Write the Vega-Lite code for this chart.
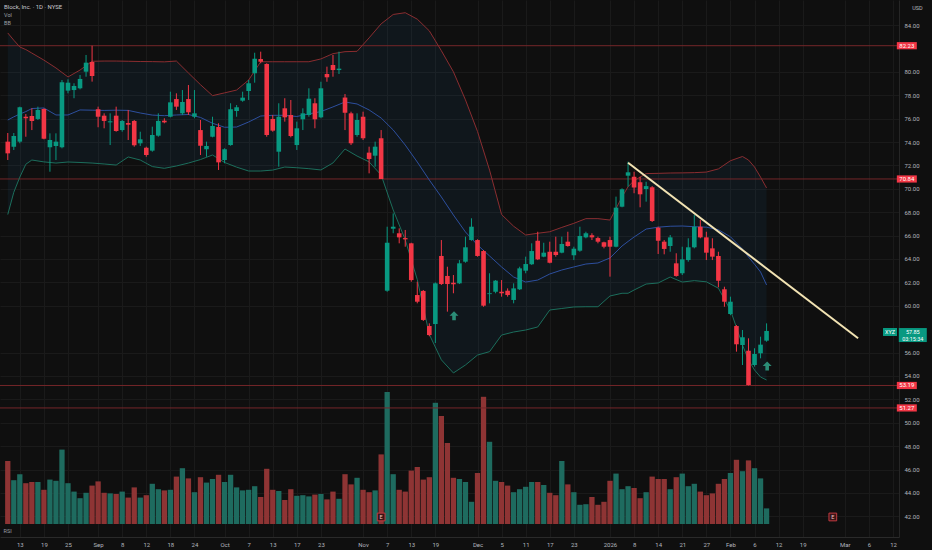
{
  "$schema": "https://vega.github.io/schema/vega-lite/v6.json",
  "width": 899,
  "height": 537,
  "autosize": {"type": "none"},
  "padding": {"left": 0, "top": 0, "right": 33, "bottom": 13},
  "background": "#0f0f0f",
  "title": {
    "text": "Block, Inc. · 1D · NYSE",
    "subtitle": ["Vol", "BB"],
    "anchor": "start",
    "frame": "group",
    "fontSize": 6,
    "fontWeight": "normal",
    "color": "#c7c9cf",
    "subtitleFontSize": 5.5,
    "subtitleColor": "#9ea1a8",
    "subtitlePadding": 3,
    "subtitleLineHeight": 8,
    "dx": 4,
    "dy": 26,
    "offset": 0
  },
  "config": {
    "font": "Roboto",
    "view": {"stroke": null},
    "axis": {"labelFont": "Roboto", "titleFont": "Roboto"},
    "axisX": {"labelOverlap": false, "labelFlush": false, "labelBound": false},
    "axisY": {"labelOverlap": false, "labelFlush": false, "labelBound": false}
  },
  "datasets": {
    "candles": [
      {"t": -2, "o": 74.03, "h": 74.77, "l": 72.46, "c": 73.03, "v": 10.5},
      {"t": -1, "o": 73.6, "h": 74.77, "l": 73.32, "c": 74.51, "v": 7.3},
      {"t": 0, "o": 74.03, "h": 77.02, "l": 73.89, "c": 76.97, "v": 8.3},
      {"t": 1, "o": 76.16, "h": 76.39, "l": 74.45, "c": 76.03, "v": 6.8},
      {"t": 2, "o": 76.22, "h": 76.88, "l": 75.02, "c": 75.8, "v": 7.0},
      {"t": 3, "o": 75.97, "h": 77.02, "l": 75.88, "c": 76.74, "v": 7.0},
      {"t": 4, "o": 76.82, "h": 76.88, "l": 74.23, "c": 74.28, "v": 5.7},
      {"t": 5, "o": 73.55, "h": 74.74, "l": 71.46, "c": 74.17, "v": 7.4},
      {"t": 6, "o": 73.66, "h": 74.74, "l": 72.46, "c": 74.03, "v": 7.2},
      {"t": 7, "o": 73.55, "h": 79.3, "l": 73.46, "c": 79.1, "v": 12.4},
      {"t": 8, "o": 78.39, "h": 79.36, "l": 78.16, "c": 79.07, "v": 6.8},
      {"t": 9, "o": 78.44, "h": 79.02, "l": 77.74, "c": 78.79, "v": 5.4},
      {"t": 10, "o": 78.59, "h": 79.73, "l": 78.5, "c": 79.39, "v": 4.3},
      {"t": 11, "o": 80.01, "h": 81.44, "l": 79.58, "c": 80.78, "v": 5.2},
      {"t": 12, "o": 80.84, "h": 82.23, "l": 79.16, "c": 79.64, "v": 6.4},
      {"t": 13, "o": 76.8, "h": 77.02, "l": 75.26, "c": 76.16, "v": 7.1},
      {"t": 14, "o": 76.25, "h": 76.45, "l": 75.17, "c": 75.8, "v": 5.2},
      {"t": 15, "o": 75.68, "h": 76.45, "l": 73.74, "c": 75.77, "v": 5.1},
      {"t": 16, "o": 76.25, "h": 77.02, "l": 74.88, "c": 74.94, "v": 5.0},
      {"t": 17, "o": 75.02, "h": 75.88, "l": 74.88, "c": 75.8, "v": 5.4},
      {"t": 18, "o": 75.62, "h": 76.74, "l": 74.17, "c": 75.48, "v": 4.4},
      {"t": 19, "o": 75.8, "h": 75.88, "l": 73.6, "c": 73.72, "v": 6.1},
      {"t": 20, "o": 73.89, "h": 74.88, "l": 73.66, "c": 74.23, "v": 4.4},
      {"t": 21, "o": 73.51, "h": 73.6, "l": 72.74, "c": 72.89, "v": 4.8},
      {"t": 22, "o": 73.26, "h": 75.31, "l": 73.17, "c": 74.6, "v": 6.7},
      {"t": 23, "o": 74.54, "h": 76.45, "l": 74.45, "c": 75.8, "v": 5.8},
      {"t": 24, "o": 75.82, "h": 76.03, "l": 75.6, "c": 75.68, "v": 5.6},
      {"t": 25, "o": 76.16, "h": 78.3, "l": 76.11, "c": 77.39, "v": 5.7},
      {"t": 26, "o": 77.67, "h": 78.16, "l": 76.74, "c": 77.02, "v": 7.9},
      {"t": 27, "o": 76.45, "h": 78.44, "l": 76.31, "c": 77.42, "v": 9.3},
      {"t": 28, "o": 77.67, "h": 78.87, "l": 76.31, "c": 76.54, "v": 7.6},
      {"t": 29, "o": 76.16, "h": 78.44, "l": 76.03, "c": 76.45, "v": 5.3},
      {"t": 30, "o": 75.02, "h": 75.88, "l": 72.89, "c": 73.68, "v": 7.8},
      {"t": 31, "o": 73.38, "h": 74.03, "l": 72.74, "c": 73.66, "v": 6.9},
      {"t": 32, "o": 74.45, "h": 76.16, "l": 74.4, "c": 75.37, "v": 7.5},
      {"t": 33, "o": 75.28, "h": 75.6, "l": 71.61, "c": 72.26, "v": 8.2},
      {"t": 34, "o": 72.46, "h": 73.46, "l": 72.18, "c": 73.38, "v": 7.0},
      {"t": 35, "o": 73.74, "h": 77.31, "l": 73.68, "c": 76.8, "v": 8.2},
      {"t": 36, "o": 76.65, "h": 77.16, "l": 76.16, "c": 76.97, "v": 6.1},
      {"t": 37, "o": 77.53, "h": 78.3, "l": 77.44, "c": 77.79, "v": 5.6},
      {"t": 38, "o": 78.36, "h": 79.3, "l": 77.59, "c": 79.02, "v": 5.7},
      {"t": 39, "o": 79.87, "h": 81.63, "l": 79.07, "c": 81.12, "v": 6.3},
      {"t": 40, "o": 81.09, "h": 81.72, "l": 80.73, "c": 80.86, "v": 4.5},
      {"t": 41, "o": 80.67, "h": 80.73, "l": 74.45, "c": 74.6, "v": 9.2},
      {"t": 42, "o": 75.97, "h": 76.31, "l": 74.88, "c": 74.97, "v": 5.7},
      {"t": 43, "o": 73.17, "h": 77.31, "l": 71.89, "c": 76.16, "v": 5.5},
      {"t": 44, "o": 76.88, "h": 77.74, "l": 75.74, "c": 76.11, "v": 4.0},
      {"t": 45, "o": 76.31, "h": 77.59, "l": 74.4, "c": 74.51, "v": 5.8},
      {"t": 46, "o": 73.74, "h": 75.74, "l": 73.32, "c": 75.17, "v": 4.7},
      {"t": 47, "o": 75.94, "h": 76.88, "l": 75.02, "c": 76.45, "v": 4.8},
      {"t": 48, "o": 76.31, "h": 78.59, "l": 76.16, "c": 77.7, "v": 4.6},
      {"t": 49, "o": 77.31, "h": 77.74, "l": 75.17, "c": 75.94, "v": 4.9},
      {"t": 50, "o": 76.11, "h": 79.15, "l": 76.03, "c": 78.59, "v": 5.0},
      {"t": 51, "o": 79.81, "h": 80.44, "l": 79.15, "c": 79.53, "v": 4.1},
      {"t": 52, "o": 80.58, "h": 81.44, "l": 79.58, "c": 80.15, "v": 5.4},
      {"t": 53, "o": 80.15, "h": 81.72, "l": 79.81, "c": 80.27, "v": 4.2},
      {"t": 54, "o": 77.8, "h": 78.1, "l": 75.02, "c": 76.5, "v": 8.3},
      {"t": 55, "o": 76.45, "h": 76.59, "l": 73.74, "c": 73.89, "v": 6.6},
      {"t": 56, "o": 74.6, "h": 76.45, "l": 74.45, "c": 75.88, "v": 7.7},
      {"t": 57, "o": 76.16, "h": 76.59, "l": 74.17, "c": 74.32, "v": 5.7},
      {"t": 58, "o": 73.09, "h": 73.6, "l": 71.32, "c": 72.55, "v": 5.3},
      {"t": 59, "o": 72.83, "h": 74.03, "l": 71.89, "c": 73.6, "v": 5.6},
      {"t": 60, "o": 74.32, "h": 75.02, "l": 70.84, "c": 70.84, "v": 11.6},
      {"t": 61, "o": 61.29, "h": 66.76, "l": 61.2, "c": 65.39, "v": 22.0},
      {"t": 62, "o": 66.59, "h": 67.9, "l": 66.2, "c": 66.76, "v": 8.3},
      {"t": 63, "o": 66.2, "h": 66.62, "l": 65.34, "c": 65.85, "v": 5.7},
      {"t": 64, "o": 65.79, "h": 66.48, "l": 65.05, "c": 65.68, "v": 5.4},
      {"t": 65, "o": 65.34, "h": 65.39, "l": 62.06, "c": 62.2, "v": 8.9},
      {"t": 66, "o": 60.92, "h": 62.06, "l": 60.21, "c": 60.35, "v": 9.5},
      {"t": 67, "o": 61.27, "h": 61.35, "l": 58.7, "c": 58.79, "v": 7.4},
      {"t": 68, "o": 58.27, "h": 58.5, "l": 57.4, "c": 57.5, "v": 7.8},
      {"t": 69, "o": 58.44, "h": 62.0, "l": 56.82, "c": 61.92, "v": 20.2},
      {"t": 70, "o": 64.26, "h": 65.62, "l": 61.78, "c": 61.86, "v": 18.0},
      {"t": 71, "o": 62.55, "h": 63.34, "l": 59.5, "c": 61.86, "v": 13.5},
      {"t": 72, "o": 61.97, "h": 62.63, "l": 61.07, "c": 61.84, "v": 7.7},
      {"t": 73, "o": 61.92, "h": 63.91, "l": 61.86, "c": 63.63, "v": 7.5},
      {"t": 74, "o": 63.77, "h": 65.91, "l": 63.68, "c": 65.0, "v": 7.0},
      {"t": 75, "o": 65.62, "h": 67.48, "l": 65.56, "c": 66.76, "v": 3.7},
      {"t": 76, "o": 65.62, "h": 65.68, "l": 64.2, "c": 64.26, "v": 8.5},
      {"t": 77, "o": 64.68, "h": 64.77, "l": 59.92, "c": 60.01, "v": 21.2},
      {"t": 78, "o": 61.0, "h": 62.78, "l": 60.21, "c": 61.07, "v": 13.7},
      {"t": 79, "o": 61.2, "h": 62.2, "l": 61.07, "c": 62.15, "v": 7.2},
      {"t": 80, "o": 61.2, "h": 62.2, "l": 60.78, "c": 61.07, "v": 7.0},
      {"t": 81, "o": 61.29, "h": 61.49, "l": 60.78, "c": 60.92, "v": 6.4},
      {"t": 82, "o": 60.5, "h": 61.92, "l": 60.21, "c": 61.49, "v": 5.3},
      {"t": 83, "o": 61.41, "h": 63.34, "l": 61.35, "c": 63.2, "v": 5.8},
      {"t": 84, "o": 63.0, "h": 64.2, "l": 62.78, "c": 63.57, "v": 6.2},
      {"t": 85, "o": 63.55, "h": 65.34, "l": 63.49, "c": 64.68, "v": 7.0},
      {"t": 86, "o": 65.56, "h": 66.33, "l": 63.91, "c": 63.97, "v": 7.0},
      {"t": 87, "o": 64.2, "h": 65.39, "l": 64.15, "c": 64.54, "v": 6.5},
      {"t": 88, "o": 64.62, "h": 65.48, "l": 63.63, "c": 63.68, "v": 5.2},
      {"t": 89, "o": 64.62, "h": 65.91, "l": 64.2, "c": 64.34, "v": 4.8},
      {"t": 90, "o": 64.54, "h": 65.91, "l": 64.49, "c": 65.28, "v": 10.5},
      {"t": 91, "o": 65.48, "h": 66.33, "l": 65.05, "c": 65.11, "v": 6.6},
      {"t": 92, "o": 64.32, "h": 65.05, "l": 63.91, "c": 64.88, "v": 5.3},
      {"t": 93, "o": 64.71, "h": 66.76, "l": 64.62, "c": 65.97, "v": 3.2},
      {"t": 94, "o": 65.85, "h": 66.33, "l": 65.77, "c": 66.2, "v": 3.3},
      {"t": 95, "o": 66.03, "h": 66.2, "l": 65.62, "c": 65.85, "v": 4.5},
      {"t": 96, "o": 65.79, "h": 65.91, "l": 65.34, "c": 65.48, "v": 3.2},
      {"t": 97, "o": 65.43, "h": 65.48, "l": 64.91, "c": 65.05, "v": 3.7},
      {"t": 98, "o": 65.62, "h": 65.91, "l": 62.49, "c": 65.05, "v": 7.2},
      {"t": 99, "o": 65.05, "h": 69.33, "l": 65.0, "c": 68.39, "v": 8.4},
      {"t": 100, "o": 68.47, "h": 70.04, "l": 68.42, "c": 69.96, "v": 5.8},
      {"t": 101, "o": 71.12, "h": 72.32, "l": 70.18, "c": 71.41, "v": 6.3},
      {"t": 102, "o": 71.03, "h": 71.46, "l": 69.62, "c": 70.11, "v": 6.0},
      {"t": 103, "o": 70.56, "h": 71.03, "l": 68.42, "c": 69.53, "v": 4.3},
      {"t": 104, "o": 69.98, "h": 70.6, "l": 68.9, "c": 70.23, "v": 5.3},
      {"t": 105, "o": 70.13, "h": 70.23, "l": 67.16, "c": 67.25, "v": 7.9},
      {"t": 106, "o": 66.68, "h": 66.76, "l": 64.43, "c": 65.56, "v": 7.5},
      {"t": 107, "o": 65.48, "h": 65.62, "l": 64.4, "c": 64.86, "v": 7.5},
      {"t": 108, "o": 65.11, "h": 66.05, "l": 64.62, "c": 65.85, "v": 5.8},
      {"t": 109, "o": 63.63, "h": 64.49, "l": 62.49, "c": 62.55, "v": 7.8},
      {"t": 110, "o": 62.78, "h": 65.05, "l": 62.63, "c": 63.97, "v": 8.4},
      {"t": 111, "o": 63.91, "h": 65.77, "l": 63.77, "c": 65.0, "v": 6.3},
      {"t": 112, "o": 65.0, "h": 67.76, "l": 64.91, "c": 66.76, "v": 6.7},
      {"t": 113, "o": 66.76, "h": 67.34, "l": 65.77, "c": 65.85, "v": 5.4},
      {"t": 114, "o": 65.85, "h": 66.33, "l": 63.91, "c": 64.54, "v": 4.8},
      {"t": 115, "o": 64.91, "h": 65.77, "l": 63.91, "c": 64.2, "v": 5.1},
      {"t": 116, "o": 64.26, "h": 64.62, "l": 61.58, "c": 62.14, "v": 6.7},
      {"t": 117, "o": 61.41, "h": 61.63, "l": 59.92, "c": 60.35, "v": 7.5},
      {"t": 118, "o": 59.3, "h": 60.78, "l": 59.2, "c": 60.35, "v": 8.5},
      {"t": 119, "o": 58.27, "h": 58.36, "l": 56.08, "c": 56.71, "v": 10.7},
      {"t": 120, "o": 56.65, "h": 57.93, "l": 54.94, "c": 57.31, "v": 8.8},
      {"t": 121, "o": 56.16, "h": 57.22, "l": 53.19, "c": 53.23, "v": 10.6},
      {"t": 122, "o": 54.94, "h": 56.37, "l": 54.8, "c": 55.88, "v": 9.3},
      {"t": 123, "o": 55.94, "h": 57.36, "l": 55.51, "c": 56.68, "v": 7.6},
      {"t": 124, "o": 57.02, "h": 58.5, "l": 56.93, "c": 57.85, "v": 2.6}
    ],
    "bb": [
      {"t": -2, "up": 83.32, "mid": 75.88, "lo": 67.8},
      {"t": -1, "up": 82.7, "mid": 76.15, "lo": 69.7},
      {"t": 0, "up": 82.12, "mid": 76.39, "lo": 71.0},
      {"t": 1, "up": 81.9, "mid": 76.6, "lo": 72.1},
      {"t": 2, "up": 81.6, "mid": 76.86, "lo": 72.46},
      {"t": 4, "up": 81.0, "mid": 76.91, "lo": 72.3},
      {"t": 6, "up": 80.33, "mid": 76.31, "lo": 72.2},
      {"t": 8, "up": 79.56, "mid": 76.31, "lo": 72.29},
      {"t": 10, "up": 80.15, "mid": 76.74, "lo": 72.25},
      {"t": 12, "up": 80.9, "mid": 76.72, "lo": 72.2},
      {"t": 14, "up": 80.92, "mid": 76.7, "lo": 72.12},
      {"t": 16, "up": 80.92, "mid": 76.72, "lo": 72.03},
      {"t": 18, "up": 80.9, "mid": 76.7, "lo": 72.72},
      {"t": 20, "up": 80.88, "mid": 76.48, "lo": 72.46},
      {"t": 22, "up": 80.87, "mid": 76.3, "lo": 71.9},
      {"t": 24, "up": 80.85, "mid": 76.25, "lo": 71.75},
      {"t": 26, "up": 80.92, "mid": 76.31, "lo": 71.95},
      {"t": 28, "up": 79.9, "mid": 76.35, "lo": 72.2},
      {"t": 30, "up": 78.9, "mid": 76.1, "lo": 72.5},
      {"t": 32, "up": 77.96, "mid": 75.6, "lo": 72.89},
      {"t": 34, "up": 78.2, "mid": 75.26, "lo": 72.25},
      {"t": 36, "up": 78.44, "mid": 75.28, "lo": 71.85},
      {"t": 38, "up": 79.3, "mid": 75.71, "lo": 71.52},
      {"t": 40, "up": 80.86, "mid": 76.22, "lo": 71.52},
      {"t": 42, "up": 80.86, "mid": 76.28, "lo": 71.6},
      {"t": 44, "up": 80.86, "mid": 76.28, "lo": 71.86},
      {"t": 46, "up": 80.86, "mid": 76.18, "lo": 71.8},
      {"t": 48, "up": 80.86, "mid": 76.4, "lo": 71.72},
      {"t": 50, "up": 81.1, "mid": 76.6, "lo": 71.61},
      {"t": 52, "up": 81.55, "mid": 77.0, "lo": 72.21},
      {"t": 54, "up": 81.72, "mid": 77.42, "lo": 73.4},
      {"t": 56, "up": 81.75, "mid": 77.25, "lo": 72.8},
      {"t": 58, "up": 82.9, "mid": 76.74, "lo": 72.3},
      {"t": 60, "up": 84.1, "mid": 76.05, "lo": 71.18},
      {"t": 62, "up": 84.9, "mid": 75.03, "lo": 68.19},
      {"t": 64, "up": 85.05, "mid": 73.74, "lo": 65.64},
      {"t": 66, "up": 84.5, "mid": 72.29, "lo": 62.24},
      {"t": 68, "up": 83.5, "mid": 70.75, "lo": 57.55},
      {"t": 70, "up": 81.8, "mid": 69.3, "lo": 55.38},
      {"t": 72, "up": 80.0, "mid": 67.76, "lo": 54.26},
      {"t": 74, "up": 77.6, "mid": 66.31, "lo": 54.94},
      {"t": 76, "up": 74.9, "mid": 65.2, "lo": 55.79},
      {"t": 78, "up": 71.6, "mid": 64.26, "lo": 56.08},
      {"t": 80, "up": 67.8, "mid": 63.32, "lo": 57.5},
      {"t": 82, "up": 66.8, "mid": 62.46, "lo": 57.76},
      {"t": 84, "up": 66.05, "mid": 62.03, "lo": 57.93},
      {"t": 86, "up": 66.2, "mid": 62.2, "lo": 58.19},
      {"t": 88, "up": 66.33, "mid": 62.72, "lo": 59.64},
      {"t": 90, "up": 66.7, "mid": 63.06, "lo": 59.77},
      {"t": 92, "up": 67.05, "mid": 63.32, "lo": 59.9},
      {"t": 94, "up": 67.45, "mid": 63.57, "lo": 59.92},
      {"t": 96, "up": 67.45, "mid": 63.66, "lo": 59.92},
      {"t": 98, "up": 67.33, "mid": 64.09, "lo": 60.84},
      {"t": 100, "up": 69.3, "mid": 65.11, "lo": 61.07},
      {"t": 101, "up": 70.18, "mid": 65.5, "lo": 61.07},
      {"t": 102, "up": 70.7, "mid": 65.88, "lo": 61.35},
      {"t": 104, "up": 71.3, "mid": 66.56, "lo": 61.86},
      {"t": 106, "up": 71.32, "mid": 66.72, "lo": 61.95},
      {"t": 108, "up": 71.35, "mid": 66.8, "lo": 62.46},
      {"t": 110, "up": 71.36, "mid": 66.82, "lo": 62.03},
      {"t": 112, "up": 71.38, "mid": 66.76, "lo": 62.15},
      {"t": 114, "up": 71.43, "mid": 66.72, "lo": 62.05},
      {"t": 116, "up": 71.7, "mid": 66.5, "lo": 61.5},
      {"t": 118, "up": 72.4, "mid": 65.9, "lo": 59.64},
      {"t": 120, "up": 72.76, "mid": 64.85, "lo": 56.65},
      {"t": 121, "up": 72.46, "mid": 64.17, "lo": 55.37},
      {"t": 122, "up": 71.86, "mid": 63.55, "lo": 54.51},
      {"t": 123, "up": 71.0, "mid": 62.89, "lo": 53.91},
      {"t": 124, "up": 70.07, "mid": 61.78, "lo": 53.66}
    ],
    "levels": [
      {"p": 82.23, "lab": "82.23"},
      {"p": 70.84, "lab": "70.84"},
      {"p": 53.19, "lab": "53.19"},
      {"p": 51.27, "lab": "51.27"}
    ],
    "trend": [
      {"t": 101, "p": 72.23},
      {"t": 139.2, "p": 57.22}
    ],
    "signals": [
      {"t": 72.1, "p": 59.15},
      {"t": 124.1, "p": 54.85}
    ],
    "earnings": [
      {"t": 60, "p": 41.95},
      {"t": 135, "p": 41.95}
    ],
    "lastPrice": [
      {"p": 57.8, "lab": "57.85"},
      {"p": 57.2, "lab": "03:15:34"}
    ]
  },
  "resolve": {"scale": {"y": "independent"}},
  "layer": [
    {
      "data": {"name": "candles"},
      "mark": {"type": "bar", "orient": "vertical", "width": 5.3},
      "encoding": {
        "x": {
          "field": "t",
          "type": "quantitative",
          "scale": {"domain": [-2.46, 145.16], "nice": false, "zero": false},
          "axis": {
            "orient": "bottom",
            "values": [0, 4, 8, 13, 17, 21, 25, 29, 34, 38, 42, 46, 50, 57, 61, 65, 69, 76, 80, 84, 88, 92, 98, 102, 106, 110, 114, 118, 122, 126, 130, 137, 141, 145],
            "tickCount": 200,
            "labelExpr": "['13','19','25','Sep','8','12','18','24','Oct','7','13','17','23','Nov','7','13','19','Dec','5','11','17','23','2026','8','14','21','27','Feb','6','12','19','Mar','6','12'][indexof([0,4,8,13,17,21,25,29,34,38,42,46,50,57,61,65,69,76,80,84,88,92,98,102,106,110,114,118,122,126,130,137,141,145], datum.value)]",
            "labelColor": "#b2b5be",
            "labelFontSize": 6,
            "labelPadding": 4,
            "labelFlush": false,
            "labelOverlap": false,
            "ticks": false,
            "grid": true,
            "gridColor": "#1a1a1a",
            "domain": true,
            "domainColor": "#2a2a2a",
            "title": "RSI",
            "titleAngle": 0,
            "titleX": 3,
            "titleY": -6.5,
            "titleAlign": "left",
            "titleBaseline": "middle",
            "titleFontSize": 5.5,
            "titleFontWeight": "normal",
            "titleColor": "#9598a1"
          }
        },
        "y": {
          "field": "v",
          "type": "quantitative",
          "scale": {"domain": [-2.1667, 87.3333], "nice": false, "zero": false},
          "axis": null
        },
        "y2": {"datum": 0},
        "color": {
          "condition": {"test": "datum.c >= datum.o", "value": "#1e6b5f"},
          "value": "#8e3434"
        }
      }
    },
    {
      "layer": [
        {
          "data": {"name": "bb"},
          "mark": {"type": "area", "color": "#2196f3", "opacity": 0.06},
          "encoding": {
            "x": {"field": "t", "type": "quantitative"},
            "y": {
              "field": "up",
              "type": "quantitative",
              "scale": {"domain": [40.239, 86.137], "nice": false, "zero": false},
              "axis": {
                "orient": "right",
                "values": [42, 44, 46, 48, 50, 52, 54, 56, 60, 62, 64, 66, 68, 70, 72, 74, 76, 78, 80, 84],
                "tickCount": 200,
                "format": ".2f",
                "labelColor": "#b2b5be",
                "labelFontSize": 6,
                "labelPadding": 5,
                "labelOverlap": false,
                "ticks": false,
                "grid": true,
                "gridColor": "#1a1a1a",
                "domain": true,
                "domainColor": "#262626",
                "title": "USD",
                "titleAngle": 0,
                "titleX": 18,
                "titleY": 7,
                "titleAlign": "center",
                "titleBaseline": "middle",
                "titleFontSize": 5.5,
                "titleFontWeight": "normal",
                "titleColor": "#b2b5be"
              }
            },
            "y2": {"field": "lo"}
          }
        },
        {
          "data": {"name": "levels"},
          "mark": {"type": "rule", "color": "#742629", "strokeWidth": 1},
          "encoding": {"y": {"field": "p", "type": "quantitative"}}
        },
        {
          "data": {"name": "bb"},
          "mark": {"type": "line", "color": "#8a2d30", "strokeWidth": 1},
          "encoding": {
            "x": {"field": "t", "type": "quantitative"},
            "y": {"field": "up", "type": "quantitative"}
          }
        },
        {
          "data": {"name": "bb"},
          "mark": {"type": "line", "color": "#2d4f9e", "strokeWidth": 1},
          "encoding": {
            "x": {"field": "t", "type": "quantitative"},
            "y": {"field": "mid", "type": "quantitative"}
          }
        },
        {
          "data": {"name": "bb"},
          "mark": {"type": "line", "color": "#1c6e5c", "strokeWidth": 1},
          "encoding": {
            "x": {"field": "t", "type": "quantitative"},
            "y": {"field": "lo", "type": "quantitative"}
          }
        },
        {
          "data": {"name": "candles"},
          "mark": {"type": "rule", "strokeWidth": 1},
          "encoding": {
            "x": {"field": "t", "type": "quantitative"},
            "y": {"field": "l", "type": "quantitative"},
            "y2": {"field": "h"},
            "color": {
              "condition": {"test": "datum.c >= datum.o", "value": "#089981"},
              "value": "#f23645"
            }
          }
        },
        {
          "data": {"name": "candles"},
          "mark": {"type": "bar", "orient": "vertical", "width": 4.6},
          "encoding": {
            "x": {"field": "t", "type": "quantitative"},
            "y": {"field": "o", "type": "quantitative"},
            "y2": {"field": "c"},
            "color": {
              "condition": {"test": "datum.c >= datum.o", "value": "#089981"},
              "value": "#f23645"
            }
          }
        },
        {
          "data": {"name": "trend"},
          "mark": {"type": "line", "color": "#f2e3b3", "strokeWidth": 2},
          "encoding": {
            "x": {"field": "t", "type": "quantitative"},
            "y": {"field": "p", "type": "quantitative"}
          }
        },
        {
          "data": {"name": "signals"},
          "mark": {
            "type": "point",
            "shape": "M0,-1L1,0L0.4,0L0.4,1L-0.4,1L-0.4,0L-1,0Z",
            "filled": true,
            "size": 80,
            "color": "#2f9a82",
            "opacity": 0.9
          },
          "encoding": {
            "x": {"field": "t", "type": "quantitative"},
            "y": {"field": "p", "type": "quantitative"}
          }
        },
        {
          "data": {"name": "earnings"},
          "mark": {
            "type": "point",
            "shape": "square",
            "filled": true,
            "size": 60,
            "fill": "#3a1517",
            "stroke": "#c23a40",
            "strokeWidth": 1,
            "opacity": 1
          },
          "encoding": {
            "x": {"field": "t", "type": "quantitative"},
            "y": {"field": "p", "type": "quantitative"}
          }
        },
        {
          "data": {"name": "earnings"},
          "mark": {"type": "text", "text": "E", "fontSize": 5.5, "color": "#f0c4c4", "align": "center", "baseline": "middle"},
          "encoding": {
            "x": {"field": "t", "type": "quantitative"},
            "y": {"field": "p", "type": "quantitative"}
          }
        },
        {
          "data": {"name": "levels"},
          "mark": {
            "type": "point",
            "shape": "M-1,-0.36H1V0.36H-1Z",
            "filled": true,
            "size": 400,
            "color": "#f23645",
            "opacity": 1
          },
          "encoding": {
            "x": {"datum": 147.29, "type": "quantitative"},
            "y": {"field": "p", "type": "quantitative"}
          }
        },
        {
          "data": {"name": "levels"},
          "mark": {"type": "text", "fontSize": 6, "color": "#ffffff", "align": "center", "baseline": "middle"},
          "encoding": {
            "x": {"datum": 147.29, "type": "quantitative"},
            "y": {"field": "p", "type": "quantitative"},
            "text": {"field": "lab"}
          }
        },
        {
          "data": {"values": [{"p": 57.5}]},
          "mark": {
            "type": "point",
            "shape": "M-1,-0.5H1V0.5H-1Z",
            "filled": true,
            "size": 784,
            "color": "#089981",
            "opacity": 1
          },
          "encoding": {
            "x": {"datum": 148.28, "type": "quantitative"},
            "y": {"field": "p", "type": "quantitative"}
          }
        },
        {
          "data": {"values": [{"p": 57.76}]},
          "mark": {
            "type": "point",
            "shape": "M-1,-0.57H1V0.57H-1Z",
            "filled": true,
            "size": 196,
            "color": "#089981",
            "opacity": 1
          },
          "encoding": {
            "x": {"datum": 144.5, "type": "quantitative"},
            "y": {"field": "p", "type": "quantitative"}
          }
        },
        {
          "data": {"values": [{"p": 57.76, "lab": "XYZ"}]},
          "mark": {"type": "text", "fontSize": 5.5, "color": "#ffffff", "align": "center", "baseline": "middle"},
          "encoding": {
            "x": {"datum": 144.5, "type": "quantitative"},
            "y": {"field": "p", "type": "quantitative"},
            "text": {"field": "lab"}
          }
        },
        {
          "data": {"name": "lastPrice"},
          "mark": {"type": "text", "fontSize": 5.5, "color": "#ffffff", "align": "center", "baseline": "middle"},
          "encoding": {
            "x": {"datum": 148.28, "type": "quantitative"},
            "y": {"field": "p", "type": "quantitative"},
            "text": {"field": "lab"}
          }
        }
      ]
    }
  ]
}
